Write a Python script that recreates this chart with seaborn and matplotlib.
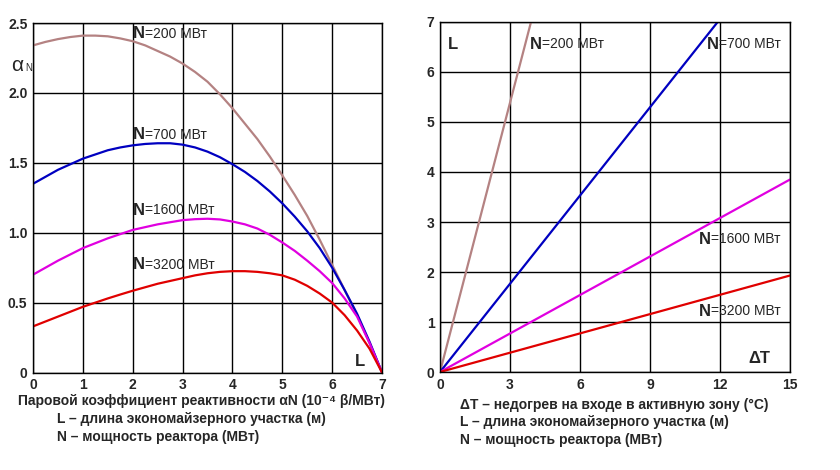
import numpy as np
import pandas as pd
import seaborn as sns
import matplotlib.pyplot as plt

# left chart: alpha_N vs L for several reactor powers
L = [0, 0.25, 0.5, 0.75, 1, 1.25, 1.5, 1.75, 2, 2.25, 2.5, 2.75, 3, 3.25, 3.5,
     3.75, 4, 4.25, 4.5, 4.75, 5, 5.25, 5.5, 5.75, 6, 6.25, 6.5, 6.75, 7]
a_200 = [2.34, 2.365, 2.385, 2.40, 2.41, 2.41, 2.405, 2.39, 2.37, 2.34, 2.30, 2.26, 2.21, 2.15, 2.08,
         1.99, 1.89, 1.78, 1.67, 1.545, 1.41, 1.27, 1.12, 0.95, 0.77, 0.59, 0.41, 0.21, 0.0]
a_700 = [1.35, 1.40, 1.45, 1.49, 1.53, 1.56, 1.59, 1.61, 1.625, 1.635, 1.64, 1.64, 1.63, 1.61, 1.58,
         1.54, 1.49, 1.435, 1.37, 1.295, 1.21, 1.115, 1.01, 0.89, 0.75, 0.59, 0.42, 0.22, 0.0]
a_1600 = [0.70, 0.75, 0.80, 0.845, 0.89, 0.925, 0.96, 0.99, 1.02, 1.04, 1.06, 1.075, 1.09, 1.097, 1.10,
          1.095, 1.08, 1.06, 1.03, 0.985, 0.93, 0.87, 0.80, 0.725, 0.64, 0.53, 0.40, 0.21, 0.0]
a_3200 = [0.33, 0.365, 0.40, 0.435, 0.47, 0.50, 0.53, 0.558, 0.585, 0.61, 0.635, 0.655, 0.675, 0.695, 0.71,
          0.72, 0.725, 0.725, 0.72, 0.71, 0.695, 0.664, 0.62, 0.565, 0.50, 0.41, 0.30, 0.17, 0.0]

# right chart: L vs dT (straight lines from origin)
dT_200 = [0, 3.9]
L_200 = [0, 7.0]
dT_700 = [0, 11.9]
L_700 = [0, 7.0]
dT_1600 = [0, 15]
L_1600 = [0, 3.85]
dT_3200 = [0, 15]
L_3200 = [0, 1.93]

powers = ["200", "700", "1600", "3200"]
colors = {"200": "#b48282", "700": "#0000c0", "1600": "#e000e0", "3200": "#e00000"}

left = pd.concat([pd.DataFrame({"L": L, "a": a, "N": n})
                  for n, a in zip(powers, [a_200, a_700, a_1600, a_3200])])
right = pd.concat([pd.DataFrame({"dT": x, "L": y, "N": n})
                   for n, x, y in zip(powers, [dT_200, dT_700, dT_1600, dT_3200],
                                      [L_200, L_700, L_1600, L_3200])])

sns.set_style("white")
plt.rcParams['font.family'] = ['Liberation Sans', 'DejaVu Sans']

fig = plt.figure(figsize=(8.4, 4.7), dpi=100)
ax1 = fig.add_axes([0.0393, 0.2074, 0.4155, 0.7436])
ax2 = fig.add_axes([0.5238, 0.2085, 0.4167, 0.7447])

sns.lineplot(data=left, x="L", y="a", hue="N", palette=colors, ax=ax1,
             legend=False, linewidth=1.6, sort=False)
sns.lineplot(data=right, x="dT", y="L", hue="N", palette=colors, ax=ax2,
             legend=False, linewidth=1.6, sort=False)

for ax in (ax1, ax2):
    ax.grid(True, color="black", linewidth=1)
    ax.set_axisbelow(True)
    for s in ax.spines.values():
        s.set_color("black")
        s.set_linewidth(1)
    ax.tick_params(length=0, pad=4, labelsize=10)
    ax.set_xlabel("")
    ax.set_ylabel("")

ax1.set_xlim(0, 7)
ax1.set_ylim(0, 2.5)
ax1.set_xticks(range(8))
ax1.set_yticks([0, 0.5, 1.0, 1.5, 2.0, 2.5])
ax1.set_yticklabels(["0", "0.5", "1.0", "1.5", "2.0", "2.5"], fontweight="bold")
ax1.set_xticklabels([str(i) for i in range(8)], fontweight="bold")

ax2.set_xlim(0, 15)
ax2.set_ylim(0, 7)
ax2.set_xticks(range(0, 16, 3))
ax2.set_yticks(range(8))
ax2.set_xticklabels([str(i) for i in range(0, 16, 3)], fontweight="bold")
ax2.set_yticklabels([str(i) for i in range(8)], fontweight="bold")


def n_label(ax, x, y, val):
    t = ax.text(x, y, "N", fontsize=12, fontweight="bold", va="center", ha="left")
    ax.annotate("=" + val + " МВт", xy=(1, 0.5), xycoords=t, va="center",
                ha="left", fontsize=10)


n_label(ax1, 2.0, 2.425, "200")
n_label(ax1, 2.0, 1.70, "700")
n_label(ax1, 2.0, 1.16, "1600")
n_label(ax1, 2.0, 0.77, "3200")

n_label(ax2, 3.85, 6.55, "200")
n_label(ax2, 11.45, 6.55, "700")
n_label(ax2, 11.1, 2.66, "1600")
n_label(ax2, 11.1, 1.22, "3200")

ax1.text(6.55, 0.08, "L", fontsize=12, fontweight="bold", ha="center", va="center")
ax2.text(0.55, 6.55, "L", fontsize=12, fontweight="bold", ha="center", va="center")
ax2.text(13.7, 0.28, "ΔT", fontsize=12, fontweight="bold", ha="center", va="center")

# alpha_N label left of the left axes
fig.text(11 / 840, 1 - 71 / 470, "α", fontsize=15, va="baseline", ha="left")
fig.text(25 / 840, 1 - 71 / 470, "N", fontsize=7, va="baseline", ha="left")

lbl = dict(fontsize=10, fontweight="bold", ha="left", va="center")
fig.text(201 / 840, 1 - 401 / 470,
         "Паровой коэффициент реактивности αN (10⁻⁴ β/МВт)",
         fontsize=10, fontweight="bold", ha="center", va="center")
fig.text(57 / 840, 1 - 419 / 470, "L – длина экономайзерного участка (м)", **lbl)
fig.text(57 / 840, 1 - 437 / 470, "N – мощность реактора (МВт)", **lbl)
fig.text(460 / 840, 1 - 405 / 470, "ΔT – недогрев на входе в активную зону (°C)", **lbl)
fig.text(460 / 840, 1 - 422 / 470, "L – длина экономайзерного участка (м)", **lbl)
fig.text(460 / 840, 1 - 440 / 470, "N – мощность реактора (МВт)", **lbl)

plt.savefig("out.png", dpi=100)
plt.close()
